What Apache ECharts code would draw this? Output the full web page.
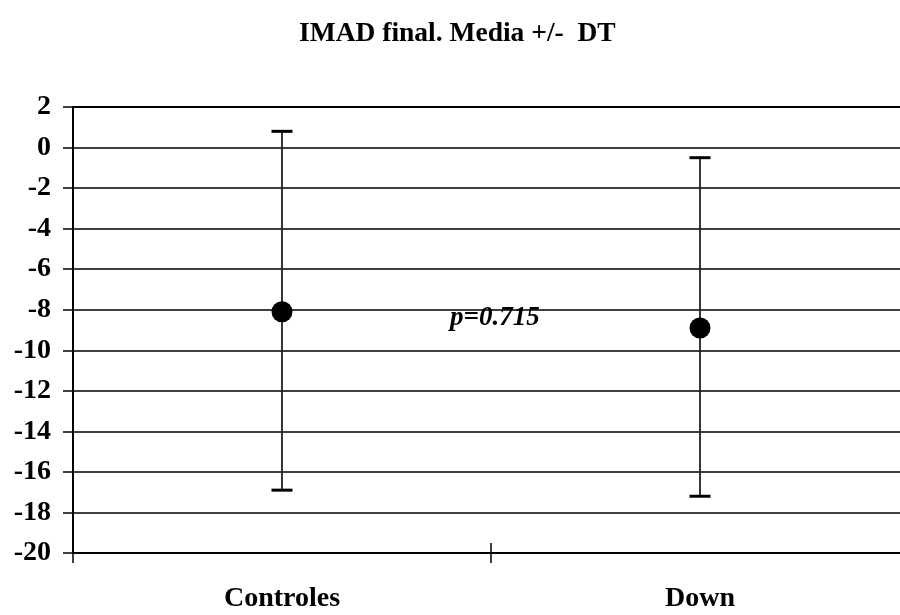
<!DOCTYPE html>
<html>
<head>
<meta charset="utf-8">
<script src="https://cdn.jsdelivr.net/npm/echarts@6/dist/echarts.min.js"></script>
<style>html,body{margin:0;padding:0;background:#fff;overflow:hidden;width:900px;height:615px}#c{width:920px;height:615px}</style>
</head>
<body>
<div id="c"></div>
<script>
const categories = ['Controles', 'Down'];
const means = [-8.1, -8.9];
const upperValues = [0.8, -0.5];
const lowerValues = [-16.9, -17.2];
const yTicks = [2, 0, -2, -4, -6, -8, -10, -12, -14, -16, -18, -20];
const titleText = 'IMAD final. Media +/-  DT';
const pText = 'p=0.715';

const FONT = "'Liberation Serif', 'Times New Roman', serif";
const chart = echarts.init(document.getElementById('c'), null, {renderer: 'canvas'});

const errData = categories.map((c, i) => [i, lowerValues[i], upperValues[i]]);

chart.setOption({
  animation: false,
  backgroundColor: '#fff',
  title: {
    text: titleText,
    left: 294, top: 15,
    textStyle: {fontFamily: FONT, fontSize: 27.5, fontWeight: 'bold', color: '#000'}
  },
  grid: {left: 73, top: 107, width: 836, bottom: 62, containLabel: false, outerBoundsMode: 'none', show: true, borderWidth: 0},
  xAxis: [{
    type: 'category', data: categories, boundaryGap: true, position: 'bottom',
    axisLine: {show: true, onZero: false, lineStyle: {color: '#000', width: 2}},
    axisTick: {show: true, inside: false, length: 10, lineStyle: {color: '#000', width: 1.5}},
    axisLabel: {fontFamily: FONT, fontSize: 28, fontWeight: 'bold', color: '#000', margin: 32},
    splitLine: {show: false}
  }, {
    type: 'category', data: categories, boundaryGap: true, position: 'bottom',
    axisLine: {show: false, onZero: false},
    axisTick: {show: true, inside: true, length: 10, lineStyle: {color: '#000', width: 1.5}},
    axisLabel: {show: false},
    splitLine: {show: false}
  }, {
    type: 'category', data: categories, boundaryGap: true, position: 'top',
    axisLine: {show: true, onZero: false, lineStyle: {color: '#000', width: 2}},
    axisTick: {show: false},
    axisLabel: {show: false},
    splitLine: {show: false}
  }],
  yAxis: {
    type: 'value', min: -20, max: 2, interval: 2,
    axisLine: {show: true, onZero: false, lineStyle: {color: '#000', width: 2}},
    axisTick: {show: true, inside: false, length: 10, lineStyle: {color: '#000', width: 1.5}},
    axisLabel: {
      fontFamily: FONT, fontSize: 28, fontWeight: 'bold', color: '#000', margin: 22,
      formatter: v => yTicks.includes(v) ? String(v) : ''
    },
    splitLine: {show: true, lineStyle: {color: '#000', width: 1.5}}
  },
  series: [{
    type: 'custom',
    xAxisIndex: 0,
    data: errData,
    renderItem: function (params, api) {
      const x = api.value(0);
      const lo = api.coord([x, api.value(1)]);
      const hi = api.coord([x, api.value(2)]);
      const half = 10.5;
      return {
        type: 'group',
        children: [
          {type: 'line', shape: {x1: hi[0], y1: hi[1], x2: lo[0], y2: lo[1]}, style: {stroke: '#222', lineWidth: 1.8}},
          {type: 'line', shape: {x1: hi[0] - half, y1: hi[1], x2: hi[0] + half, y2: hi[1]}, style: {stroke: '#000', lineWidth: 3}},
          {type: 'line', shape: {x1: lo[0] - half, y1: lo[1], x2: lo[0] + half, y2: lo[1]}, style: {stroke: '#000', lineWidth: 3}}
        ]
      };
    },
    z: 3
  }, {
    type: 'scatter',
    xAxisIndex: 0,
    data: means,
    symbol: 'circle', symbolSize: 21,
    itemStyle: {color: '#000', opacity: 1},
    z: 4
  }],
  graphic: [{
    type: 'text',
    left: 450, top: 305,
    style: {text: pText, fontFamily: FONT, fontSize: 27, fontWeight: 'bold', fontStyle: 'italic', fill: '#000'},
    z: 5
  }]
});
</script>
</body>
</html>
